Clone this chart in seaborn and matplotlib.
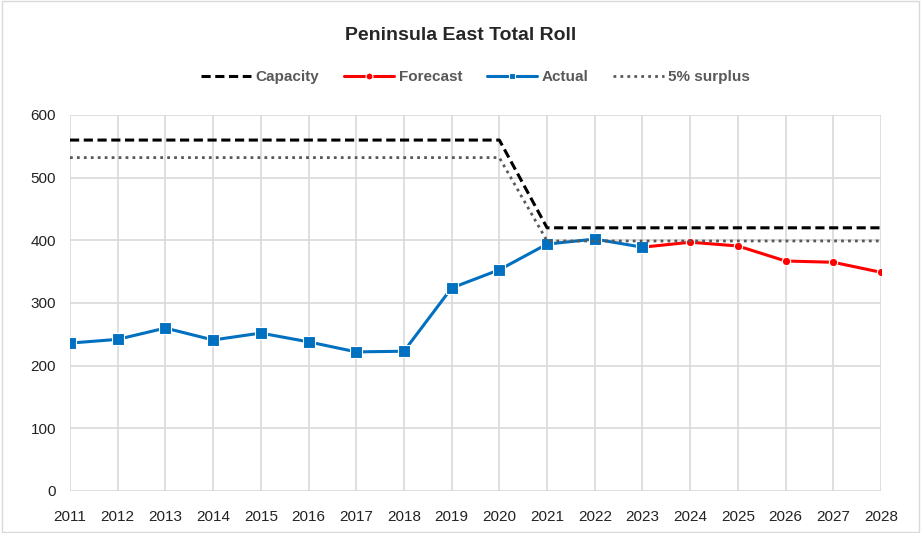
import matplotlib
matplotlib.use("Agg")
import matplotlib.pyplot as plt
import seaborn as sns
import pandas as pd

years = list(range(2011, 2029))
capacity = [560]*10 + [420]*8
surplus = [532]*10 + [399]*8
actual_years = list(range(2011, 2024))
actual = [236, 242, 260, 241, 252, 238, 222, 223, 324, 353, 394, 402, 389]
forecast_years = list(range(2023, 2029))
forecast = [389, 397, 391, 367, 365, 349]

sns.set_theme(style="white")
plt.rcParams['font.family'] = ['Liberation Sans', 'DejaVu Sans']

fig = plt.figure(figsize=(9.21, 5.33), dpi=100)
ax = fig.add_axes([70/921, 1-491/533, (881-70)/921, (491-115)/533])

sns.lineplot(x=years, y=capacity, ax=ax, color="black", lw=2.2, linestyle=(0, (3, 1.5)), label="Capacity")
sns.lineplot(x=forecast_years, y=forecast, ax=ax, color="#FF0000", lw=2.2, marker="o", markersize=6,
             markeredgecolor="white", markeredgewidth=0.8, label="Forecast")
sns.lineplot(x=actual_years, y=actual, ax=ax, color="#0070C0", lw=2.2, marker="s", markersize=8,
             markeredgecolor="white", markeredgewidth=0.8, label="Actual")
sns.lineplot(x=years, y=surplus, ax=ax, color="#595959", lw=2.0, linestyle=(0, (1, 1.5)), label="5% surplus")

ax.set_xlim(2011, 2028)
ax.set_ylim(0, 600)
ax.set_xticks(years)
ax.set_xticklabels([str(y) for y in years])
ax.set_yticks(range(0, 601, 100))
ax.grid(True, color="#D9D9D9", lw=1.2)
ax.set_axisbelow(True)
for s in ax.spines.values():
    s.set_visible(False)
ax.tick_params(axis="both", labelsize=11, colors="#222222", length=0)
ax.tick_params(axis="x", pad=14)
ax.tick_params(axis="y", pad=10)
ax.set_xlabel("")
ax.set_ylabel("")

leg = ax.legend(loc="center", bbox_to_anchor=(0.5, 1 + (115-77)/376), ncol=4, frameon=False,
          prop={"size": 11, "weight": "bold"}, labelcolor="#595959", handlelength=3.3, columnspacing=1.6,
          handletextpad=0.3)
for h in leg.legend_handles:
    h.set_markersize(5)
fig.text(0.5, 1-35/533, "Peninsula East Total Roll", ha="center", va="center", fontsize=14, fontweight="bold")

border = plt.Rectangle((0.002, 0.002), 0.996, 0.996, transform=fig.transFigure, fill=False, ec="#D9D9D9", lw=1)
fig.add_artist(border)
fig.savefig("out.png", dpi=100)
